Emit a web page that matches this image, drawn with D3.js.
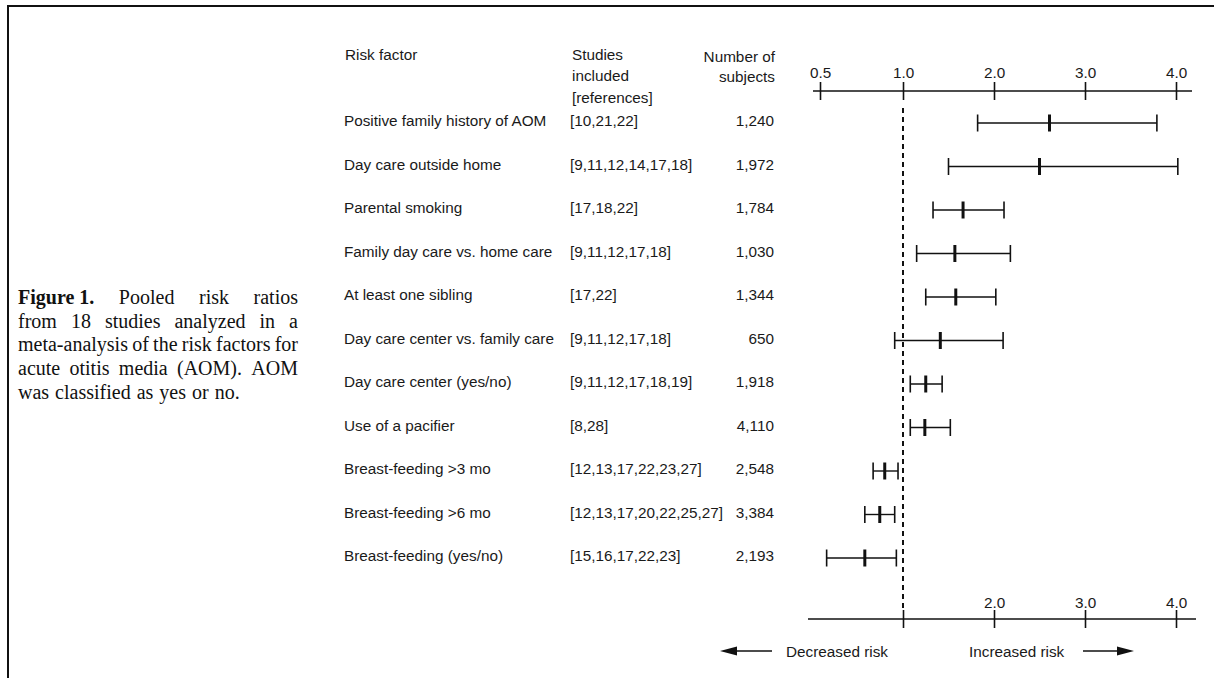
<!DOCTYPE html>
<html>
<head>
<meta charset="utf-8">
<script src="https://cdn.jsdelivr.net/npm/d3@7"></script>
<style>
  html, body { margin: 0; padding: 0; background: #fff; }
  svg { display: block; }
  .sans { font-family: "Liberation Sans", Arial, Helvetica, sans-serif; font-size: 15.3px; fill: #1a1a1a; }
  .serif { font-family: "Liberation Serif", "Times New Roman", serif; font-size: 20px; fill: #111; }
</style>
</head>
<body>
<script>
// Risk factors for acute otitis media: pooled risk ratios with 95% CIs
const factors = [
  "Positive family history of AOM",
  "Day care outside home",
  "Parental smoking",
  "Family day care vs. home care",
  "At  least one sibling",
  "Day care center vs. family care",
  "Day care center (yes/no)",
  "Use of a pacifier",
  "Breast-feeding >3 mo",
  "Breast-feeding >6 mo",
  "Breast-feeding (yes/no)"
];
const studies = [
  "[10,21,22]",
  "[9,11,12,14,17,18]",
  "[17,18,22]",
  "[9,11,12,17,18]",
  "[17,22]",
  "[9,11,12,17,18]",
  "[9,11,12,17,18,19]",
  "[8,28]",
  "[12,13,17,22,23,27]",
  "[12,13,17,20,22,25,27]",
  "[15,16,17,22,23]"
];
const subjects = ["1,240", "1,972", "1,784", "1,030", "1,344", "650", "1,918", "4,110", "2,548", "3,384", "2,193"];
const riskRatio = [2.61, 2.50, 1.66, 1.57, 1.58, 1.41, 1.25, 1.24, 0.89, 0.86, 0.77];
const ciLow     = [1.82, 1.50, 1.33, 1.15, 1.25, 0.95, 1.08, 1.08, 0.82, 0.77, 0.54];
const ciHigh    = [3.79, 4.02, 2.11, 2.18, 2.02, 2.10, 1.43, 1.52, 0.97, 0.95, 0.96];

const topTicks = [0.5, 1, 2, 3, 4];
const topTickLabels = ["0.5", "1.0", "2.0", "3.0", "4.0"];
const bottomTicks = [1, 2, 3, 4];
const bottomTickLabels = ["", "2.0", "3.0", "4.0"];

const captionLines = [
  ["Figure 1.", "Pooled", "risk", "ratios"],
  ["from", "18", "studies", "analyzed", "in", "a"],
  ["meta-analysis", "of", "the", "risk", "factors", "for"],
  ["acute", "otitis", "media", "(AOM).", "AOM"],
  ["was", "classified", "as", "yes", "or", "no."]
];

const W = 1214, H = 678;
const svg = d3.select("body").append("svg").attr("width", W).attr("height", H);

// page frame (top and left rules)
svg.append("path")
  .attr("d", `M8,${H} L8,6 L${W},6`)
  .attr("fill", "none").attr("stroke", "#111").attr("stroke-width", 2);

// ---------- caption, justified ----------
const capX = 18, capW = 280, capY0 = 304, capLH = 23.7;
const capG = svg.append("g");
captionLines.forEach((words, li) => {
  const y = capY0 + li * capLH;
  const nodes = words.map((w, wi) => capG.append("text")
    .attr("class", "serif")
    .attr("y", y)
    .style("font-weight", li === 0 && wi === 0 ? "bold" : null)
    .text(w));
  const widths = nodes.map(n => n.node().getComputedTextLength());
  const total = d3.sum(widths);
  const last = li === captionLines.length - 1;
  const gap = last ? 6 : (capW - total) / (words.length - 1);
  let x = capX;
  nodes.forEach((n, i) => { n.attr("x", x); x += widths[i] + gap; });
});

// ---------- scales ----------
const x = d3.scaleLinear().domain([0.5, 1, 4]).range([820, 903, 1176]);
const y = d3.scalePoint().domain(factors).range([123, 558]);

// ---------- table columns ----------
const colFactor = 344, colStudies = 570, colSubjects = 774;
const head = svg.append("g");
head.append("text").attr("class", "sans").attr("x", colFactor + 1).attr("y", 60).text("Risk factor");
[["Studies", 60], ["included", 81], ["[references]", 103]].forEach(([t, yy]) =>
  head.append("text").attr("class", "sans").attr("x", colStudies + 2).attr("y", yy).text(t));
[["Number of", 62], ["subjects", 82]].forEach(([t, yy]) =>
  head.append("text").attr("class", "sans").attr("x", colSubjects + 1).attr("y", yy)
    .attr("text-anchor", "end").text(t));

const rows = svg.append("g").selectAll("g").data(factors).join("g")
  .attr("transform", d => `translate(0,${y(d) + 3})`);
rows.append("text").attr("class", "sans").attr("x", colFactor).text(d => d);
rows.append("text").attr("class", "sans").attr("x", colStudies).text((d, i) => studies[i]);
rows.append("text").attr("class", "sans").attr("x", colSubjects).attr("text-anchor", "end")
  .text((d, i) => subjects[i]);

// ---------- axes ----------
function styleAxis(g, lineFrom, lineTo, labelY) {
  g.select(".domain").remove();
  g.selectAll(".tick line").attr("y1", -9).attr("y2", 9)
    .attr("stroke", "#111").attr("stroke-width", 1.6);
  g.selectAll(".tick text").attr("y", labelY).attr("dy", 0)
    .attr("class", "sans").attr("font-size", null)
    .attr("font-family", null).attr("fill", "#1a1a1a");
  g.insert("line", ":first-child")
    .attr("x1", lineFrom).attr("x2", lineTo)
    .attr("stroke", "#111").attr("stroke-width", 1.6);
}

const topAxis = svg.append("g").attr("transform", "translate(0,91)")
  .call(d3.axisTop(x).tickValues(topTicks).tickFormat((d, i) => topTickLabels[i]));
styleAxis(topAxis, 813, 1192, -13);

const bottomAxis = svg.append("g").attr("transform", "translate(0,619)")
  .call(d3.axisTop(x).tickValues(bottomTicks).tickFormat((d, i) => bottomTickLabels[i]));
styleAxis(bottomAxis, 808, 1196, -11);

// reference line at RR = 1
svg.append("line")
  .attr("x1", x(1)).attr("x2", x(1)).attr("y1", 108).attr("y2", 608)
  .attr("stroke", "#111").attr("stroke-width", 2).attr("stroke-dasharray", "5,4");

// ---------- confidence intervals ----------
const ci = svg.append("g").selectAll("g").data(factors).join("g")
  .attr("transform", d => `translate(0,${y(d)})`);
ci.append("line")
  .attr("x1", (d, i) => x(ciLow[i])).attr("x2", (d, i) => x(ciHigh[i]))
  .attr("stroke", "#111").attr("stroke-width", 1.4);
ci.append("line")
  .attr("x1", (d, i) => x(ciLow[i])).attr("x2", (d, i) => x(ciLow[i]))
  .attr("y1", -8.5).attr("y2", 8.5)
  .attr("stroke", "#111").attr("stroke-width", 1.6);
ci.append("line")
  .attr("x1", (d, i) => x(ciHigh[i])).attr("x2", (d, i) => x(ciHigh[i]))
  .attr("y1", -8.5).attr("y2", 8.5)
  .attr("stroke", "#111").attr("stroke-width", 1.6);
ci.append("line")
  .attr("x1", (d, i) => x(riskRatio[i])).attr("x2", (d, i) => x(riskRatio[i]))
  .attr("y1", -8.5).attr("y2", 8.5)
  .attr("stroke", "#111").attr("stroke-width", 3);

// ---------- direction labels ----------
const dir = svg.append("g");
dir.append("text").attr("class", "sans").attr("x", 786).attr("y", 657).text("Decreased risk");
dir.append("text").attr("class", "sans").attr("x", 969).attr("y", 657).text("Increased risk");
dir.append("line").attr("x1", 734).attr("x2", 772).attr("y1", 651).attr("y2", 651)
  .attr("stroke", "#111").attr("stroke-width", 1.5);
dir.append("path").attr("d", "M720,651 L737,646.5 L737,655.5 Z").attr("fill", "#111");
dir.append("line").attr("x1", 1083).attr("x2", 1120).attr("y1", 651).attr("y2", 651)
  .attr("stroke", "#111").attr("stroke-width", 1.5);
dir.append("path").attr("d", "M1134,651 L1117,646.5 L1117,655.5 Z").attr("fill", "#111");
</script>
</body>
</html>
